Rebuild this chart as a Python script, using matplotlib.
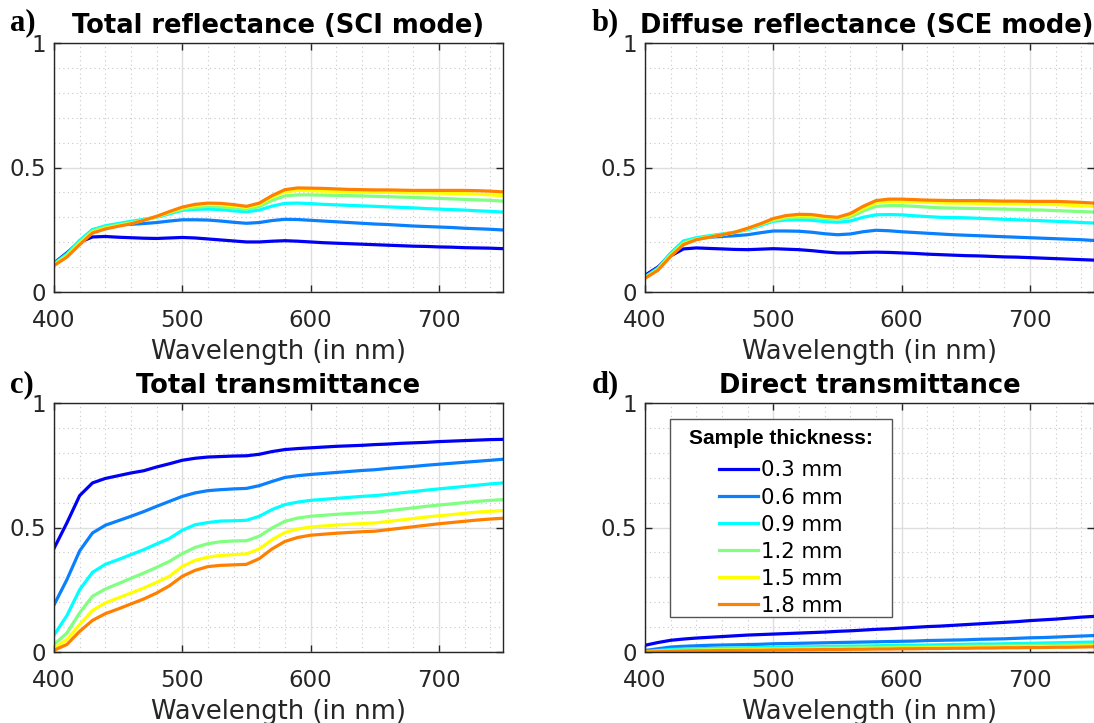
import matplotlib
matplotlib.use('Agg')
import matplotlib.pyplot as plt
from matplotlib.patches import Rectangle
from matplotlib.ticker import MultipleLocator, FixedLocator, FixedFormatter
import numpy as np

# longitudes de onda (nm), paso 10
wavelength = np.arange(400, 751, 10)
thickness_labels = ['0.3 mm', '0.6 mm', '0.9 mm', '1.2 mm', '1.5 mm', '1.8 mm']
colores = ['#0000f5', '#0a80ff', '#00ffff', '#80ff80', '#ffff00', '#ff8000']

# a) reflectancia total (SCI)
sci_03 = [.116, .157, .200, .221, .223, .220, .218, .216, .215, .217, .219, .217, .213, .209, .205, .201, .201, .204,
          .206, .204, .201, .198, .196, .194, .192, .190, .188, .186, .184, .183, .181, .180, .178, .177, .176, .174]
sci_06 = [.115, .155, .205, .250, .262, .269, .272, .275, .279, .285, .290, .290, .289, .285, .280, .276, .279, .287,
          .292, .291, .288, .285, .282, .279, .276, .273, .271, .268, .265, .263, .261, .259, .256, .254, .252, .249]
sci_09 = [.113, .152, .207, .250, .266, .275, .284, .292, .300, .314, .328, .332, .333, .331, .326, .322, .329, .345,
          .356, .357, .355, .352, .350, .348, .346, .344, .342, .340, .338, .335, .333, .331, .329, .326, .324, .321]
sci_12 = [.110, .147, .200, .245, .260, .269, .278, .289, .302, .318, .333, .340, .344, .342, .337, .333, .343, .368,
          .386, .390, .390, .389, .388, .387, .386, .384, .383, .381, .380, .378, .376, .374, .372, .370, .368, .365]
sci_15 = [.108, .143, .195, .240, .256, .266, .276, .288, .303, .321, .338, .348, .352, .351, .346, .340, .352, .381,
          .403, .408, .407, .405, .404, .402, .401, .400, .400, .399, .398, .398, .397, .396, .395, .393, .390, .387]
sci_18 = [.106, .140, .190, .237, .253, .264, .274, .288, .304, .323, .341, .352, .357, .356, .351, .344, .357, .387,
          .411, .418, .417, .416, .414, .412, .411, .410, .410, .409, .408, .408, .408, .408, .408, .407, .405, .402]

# b) reflectancia difusa (SCE)
sce_03 = [.067, .100, .145, .173, .177, .175, .173, .171, .170, .172, .174, .172, .170, .166, .161, .157, .157, .159,
          .160, .159, .157, .155, .152, .150, .148, .146, .145, .143, .141, .140, .138, .136, .134, .132, .130, .128]
sce_06 = [.062, .097, .155, .203, .214, .220, .223, .226, .230, .238, .245, .245, .244, .240, .234, .230, .233, .242,
          .248, .246, .242, .239, .236, .233, .230, .228, .226, .224, .222, .220, .218, .216, .214, .212, .210, .207]
sce_09 = [.060, .094, .155, .205, .218, .226, .233, .240, .250, .267, .284, .289, .290, .288, .283, .280, .285, .300,
          .310, .311, .310, .306, .303, .300, .299, .298, .296, .294, .292, .290, .288, .286, .284, .282, .279, .277]
sce_12 = [.058, .091, .150, .198, .213, .222, .230, .240, .254, .271, .288, .297, .300, .299, .295, .293, .301, .325,
          .344, .347, .347, .344, .341, .338, .337, .336, .335, .334, .333, .332, .330, .329, .327, .325, .323, .321]
sce_15 = [.056, .089, .146, .193, .211, .221, .230, .240, .255, .273, .292, .303, .307, .306, .300, .297, .309, .336,
          .358, .363, .363, .362, .360, .358, .357, .357, .356, .355, .355, .354, .353, .352, .351, .349, .346, .344]
sce_18 = [.055, .087, .143, .190, .210, .220, .230, .240, .256, .274, .295, .307, .312, .311, .304, .300, .315, .344,
          .367, .373, .373, .371, .369, .368, .367, .367, .367, .366, .365, .365, .364, .364, .364, .362, .360, .357]

# c) transmitancia total
tt_03 = [.416, .518, .628, .679, .697, .708, .719, .728, .743, .756, .770, .778, .783, .785, .787, .788, .794, .805,
         .813, .817, .820, .823, .826, .828, .830, .833, .835, .838, .840, .842, .845, .847, .849, .851, .853, .854]
tt_06 = [.189, .290, .406, .478, .509, .527, .545, .564, .585, .605, .625, .639, .648, .652, .655, .657, .668, .685,
         .701, .708, .713, .717, .721, .725, .729, .732, .737, .741, .745, .750, .754, .758, .762, .766, .770, .774]
tt_09 = [.068, .146, .250, .320, .352, .371, .391, .411, .434, .456, .489, .511, .520, .526, .527, .529, .545, .572,
         .592, .602, .609, .613, .617, .621, .625, .628, .633, .639, .644, .650, .655, .660, .665, .670, .675, .679]
tt_12 = [.030, .076, .157, .224, .253, .274, .296, .317, .340, .364, .395, .420, .435, .443, .446, .447, .465, .498,
         .525, .538, .545, .549, .553, .556, .559, .561, .567, .573, .579, .585, .590, .595, .600, .605, .609, .612]
tt_15 = [.015, .050, .110, .167, .197, .217, .237, .257, .280, .304, .344, .368, .381, .388, .391, .394, .414, .451,
         .480, .494, .502, .506, .510, .513, .516, .518, .524, .530, .536, .542, .547, .552, .557, .562, .565, .568]
tt_18 = [.007, .030, .083, .127, .154, .173, .193, .213, .237, .266, .304, .328, .343, .348, .350, .352, .375, .414,
         .444, .460, .469, .473, .477, .480, .483, .485, .491, .497, .503, .509, .515, .520, .525, .530, .534, .537]

# d) transmitancia directa
td_03 = [.027, .038, .047, .052, .056, .059, .062, .065, .068, .070, .072, .074, .076, .078, .080, .083, .085, .088,
         .091, .093, .096, .099, .102, .104, .107, .110, .113, .116, .119, .122, .126, .129, .132, .136, .140, .143]
td_06 = [.006, .013, .020, .023, .025, .027, .028, .029, .030, .031, .033, .034, .035, .036, .037, .038, .039, .040,
         .041, .042, .043, .044, .046, .047, .048, .049, .051, .052, .053, .055, .057, .058, .060, .062, .064, .066]
td_09 = [.002, .006, .010, .012, .013, .014, .015, .016, .017, .018, .019, .020, .021, .021, .022, .023, .024, .024,
         .025, .026, .027, .027, .028, .029, .030, .031, .032, .032, .033, .034, .035, .036, .037, .038, .039, .040]
td_12 = [.001, .003, .006, .008, .009, .010, .011, .011, .012, .013, .013, .014, .015, .015, .016, .016, .017, .018,
         .018, .019, .020, .020, .021, .022, .022, .023, .024, .024, .025, .026, .026, .027, .028, .029, .030, .031]
td_15 = [.000, .002, .004, .005, .006, .007, .008, .008, .009, .010, .010, .011, .011, .012, .012, .013, .013, .014,
         .014, .015, .016, .016, .017, .017, .018, .018, .019, .019, .020, .020, .021, .022, .022, .023, .024, .025]
td_18 = [.000, .001, .003, .004, .005, .005, .006, .006, .007, .007, .008, .008, .009, .009, .010, .010, .011, .011,
         .012, .012, .013, .013, .014, .014, .015, .015, .016, .016, .017, .017, .018, .018, .019, .019, .020, .021]

paneles = [
    ('a)', 'Total reflectance (SCI mode)', [sci_03, sci_06, sci_09, sci_12, sci_15, sci_18]),
    ('b)', 'Diffuse reflectance (SCE mode)', [sce_03, sce_06, sce_09, sce_12, sce_15, sce_18]),
    ('c)', 'Total transmittance', [tt_03, tt_06, tt_09, tt_12, tt_15, tt_18]),
    ('d)', 'Direct transmittance', [td_03, td_06, td_09, td_12, td_15, td_18]),
]

W, H = 1094, 723
fig = plt.figure(figsize=(W / 100, H / 100), dpi=100)

# posiciones en pixeles: (izquierda, arriba) de cada eje y de su letra
pos_px = [(54, 43), (645, 43), (54, 403), (645, 403)]
letra_px = [(10, 23), (592, 23), (10, 385), (592, 385)]
ancho_px, alto_px = 449, 249
gris = '#262626'

for (letra, titulo, series), (x0, y0), (lx, ly) in zip(paneles, pos_px, letra_px):
    ax = fig.add_axes([x0 / W, 1 - (y0 + alto_px) / H, ancho_px / W, alto_px / H])
    for serie, color, lab in zip(series, colores, thickness_labels):
        ax.plot(wavelength, serie, color=color, lw=2.3, label=lab)
    ax.set_xlim(400, 750)
    ax.set_ylim(0, 1)
    ax.xaxis.set_major_locator(FixedLocator([400, 500, 600, 700]))
    ax.xaxis.set_minor_locator(MultipleLocator(20))
    ax.yaxis.set_major_locator(FixedLocator([0, 0.5, 1]))
    ax.yaxis.set_major_formatter(FixedFormatter(['0', '0.5', '1']))
    ax.yaxis.set_minor_locator(MultipleLocator(0.1))
    ax.grid(True, which='major', color='#dedede', lw=1.0, ls='-')
    ax.grid(True, which='minor', color='#c8c8c8', lw=0.8, ls=(0, (1, 3)))
    ax.set_axisbelow(True)
    ax.tick_params(which='major', direction='in', length=5, width=1, color=gris,
                   labelcolor=gris, labelsize=16.5, top=True, right=True)
    ax.tick_params(axis='x', which='major', pad=12)
    ax.tick_params(axis='y', which='major', pad=6)
    ax.tick_params(which='minor', length=0)
    for s in ax.spines.values():
        s.set_color(gris)
        s.set_linewidth(1.0)
    ax.set_xlabel('Wavelength (in nm)', fontsize=18.5, color=gris, labelpad=5)
    tx = 0.493 if letra == 'b)' else 0.5
    ax.set_title(titulo, fontsize=18.5, fontweight='bold', pad=7, x=tx)
    fig.text(lx / W, 1 - ly / H, letra, family='Liberation Serif',
             fontweight='bold', fontsize=22, va='center', ha='left')
    if letra == 'd)':
        # marco de la leyenda dibujado aparte (padding distinto en horizontal y vertical)
        marco = Rectangle((670 / W, 1 - 617 / H), 222 / W, 198 / H, transform=fig.transFigure,
                          facecolor='white', edgecolor='#555555', lw=1.0, zorder=4, clip_on=False)
        ax.add_patch(marco)
        leg = ax.legend(loc='upper center', bbox_to_anchor=(781 / W, 1 - 429 / H),
                        bbox_transform=fig.transFigure, borderaxespad=0, borderpad=0,
                        fontsize=15.3, handlelength=1.85, handletextpad=0.15,
                        labelspacing=0.33, frameon=False,
                        title='Sample thickness:',
                        title_fontproperties={'family': 'Liberation Sans',
                                              'weight': 'bold', 'size': 15})
        leg._legend_box.sep = 9
        leg.set_zorder(5)

fig.savefig('out.png', dpi=100)
plt.close(fig)
